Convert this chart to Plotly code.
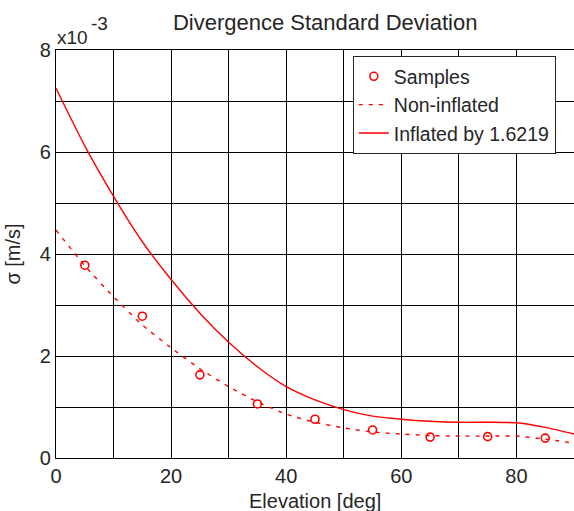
import plotly.graph_objects as go

# ---- data (sigma in units of 1e-3 m/s) ----
sample_elev = [5, 15, 25, 35, 45, 55, 65, 75, 85]
sample_sigma = [3.78, 2.78, 1.63, 1.06, 0.76, 0.55, 0.41, 0.42, 0.39]

curve_elev = [0, 5, 10, 15, 20, 25, 30, 35, 40, 45, 50, 55, 60, 65, 70, 75, 80, 85, 90]
non_inflated = [4.47, 3.77, 3.16, 2.61, 2.16, 1.75, 1.40, 1.10, 0.86, 0.70, 0.59, 0.51,
                0.47, 0.44, 0.43, 0.43, 0.43, 0.37, 0.29]
inflated = [7.25, 6.12, 5.13, 4.24, 3.50, 2.84, 2.27, 1.79, 1.40, 1.14, 0.95, 0.82,
            0.76, 0.72, 0.70, 0.70, 0.69, 0.60, 0.47]

x_ticks = [0, 10, 20, 30, 40, 50, 60, 70, 80, 90]
x_ticktext = ["0", "", "20", "", "40", "", "60", "", "80", ""]
y_ticks = [0, 1, 2, 3, 4, 5, 6, 7, 8]
y_ticktext = ["0", "", "2", "", "4", "", "6", "", "8"]

FONT = "Liberation Sans, Arial, sans-serif"
TXT = "#262626"
RED = "#ff0000"

fig = go.Figure()
fig.add_trace(go.Scatter(
    x=sample_elev, y=sample_sigma, mode="markers", name="Samples",
    marker=dict(symbol="circle-open", size=8, color=RED, line=dict(width=1.6, color=RED)),
))
fig.add_trace(go.Scatter(
    x=curve_elev, y=non_inflated, mode="lines", name="Non-inflated",
    line=dict(color=RED, width=1.4, dash="4px,6px", shape="spline", smoothing=0.6),
))
fig.add_trace(go.Scatter(
    x=curve_elev, y=inflated, mode="lines", name="Inflated by 1.6219",
    line=dict(color=RED, width=1.4, shape="spline", smoothing=0.6),
))

axis_common = dict(
    showgrid=True, gridcolor="#000000", gridwidth=1.3,
    showline=True, linecolor="#000000", linewidth=1.3, mirror=True,
    zeroline=False, ticks="", tickmode="array", automargin=False,
    tickfont=dict(family=FONT, size=20, color=TXT),
)

fig.update_layout(
    width=574, height=511,
    margin=dict(l=56, r=0, t=50, b=53),
    paper_bgcolor="white", plot_bgcolor="white",
    font=dict(family=FONT, size=20, color=TXT),
    title=dict(text="Divergence Standard Deviation", x=0.5665, xanchor="center",
               xref="container", y=0.957, yanchor="middle",
               font=dict(family=FONT, size=22, color=TXT)),
    xaxis=dict(range=[0, 90], tickvals=x_ticks, ticktext=x_ticktext, **axis_common),
    yaxis=dict(range=[0, 8], tickvals=y_ticks, ticktext=y_ticktext,
               title=dict(text="σ [m/s]", standoff=13,
                          font=dict(family=FONT, size=20, color=TXT)),
               **axis_common),
    legend=dict(x=0.573, y=0.985, xanchor="left", yanchor="top",
                bgcolor="white", bordercolor="#262626", borderwidth=1,
                font=dict(family=FONT, size=19.5, color=TXT),
                tracegroupgap=0),
    showlegend=True,
)

fig.add_annotation(text="Elevation [deg]", xref="paper", yref="paper", x=0.5, y=-0.106,
                   xanchor="center", yanchor="middle", showarrow=False,
                   font=dict(family=FONT, size=20, color=TXT))
fig.add_annotation(text="x10", xref="paper", yref="paper", x=-0.002, y=1.03,
                   xanchor="left", yanchor="middle", showarrow=False,
                   font=dict(family=FONT, size=19, color=TXT))
fig.add_annotation(text="-3", xref="paper", yref="paper", x=0.064, y=1.066,
                   xanchor="left", yanchor="middle", showarrow=False,
                   font=dict(family=FONT, size=19, color=TXT))

fig.write_html("out.html", config={"displayModeBar": False},
               post_script="document.body.style.margin='0';")
